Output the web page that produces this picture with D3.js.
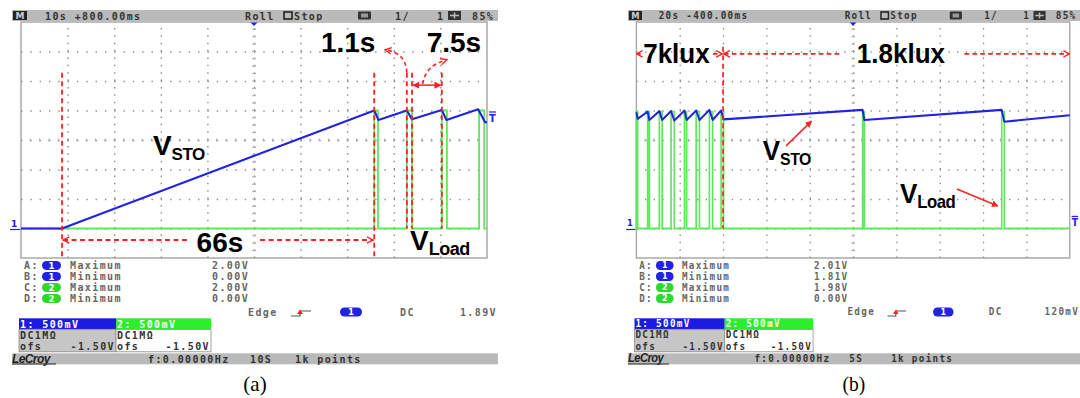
<!DOCTYPE html>
<html>
<head>
<meta charset="utf-8">
<script src="https://cdn.jsdelivr.net/npm/d3@7"></script>
<style>
  body { margin: 0; background: #fff; }
  svg { display: block; }
  .mono { font-family: "DejaVu Sans Mono", monospace; font-weight: bold; font-size: 10px; letter-spacing: 1.4px; }
  .big { font-family: "Liberation Sans", Arial, sans-serif; font-weight: bold; fill: #000; }
</style>
</head>
<body>
<svg id="chart" width="1080" height="398"></svg>
<script>
// ---- shared scope grid (500 mV/div, 8 divisions) ----
const voltGrid = [-0.5, 0, 0.5, 1, 1.5, 2, 2.5, 3, 3.5];
const measLetters = ['A', 'B', 'C', 'D'];
const measChannels = ['1', '1', '2', '2'];
const measNames = ['Maximum', 'Minimum', 'Maximum', 'Minimum'];

// ---- panel (a): 10 s/div ----
const aTimeGrid = [0, 10, 20, 30, 40, 50, 60, 70, 80, 90, 100];
const aStoTime = [0, 8.8, 75.8, 76.7, 82.8, 83.9, 90.3, 91.3, 98.1, 99.6, 100];
const aStoVolt = [0, 0, 2.00, 1.84, 2.00, 1.85, 2.01, 1.84, 2.02, 1.80, 1.80];
const aLoadOn = [75.8, 82.8, 90.3, 98.3];
const aLoadOff = [76.6, 83.9, 91.4, 99.4];
const aCursorTime = [8.8, 75.8, 82.8, 83.9, 90.3];
const aCursorBottom = [-0.5, -0.5, 0, 0, 0];
const aMeasValues = ['2.00V', '0.00V', '2.00V', '0.00V'];

// ---- panel (b): 20 s/div ----
const bTimeGrid = [0, 20, 40, 60, 80, 100, 120, 140, 160, 180, 200];
const bStoTime = [0, 0.6, 5.2, 6.0, 10.6, 11.9, 16.0, 17.5, 22.2, 23.2, 27.6, 29.1, 33.7, 35.2, 39.1, 40.2, 104.4, 105.2, 168.6, 169.8, 200];
const bStoVolt = [1.97, 1.86, 1.98, 1.84, 1.99, 1.84, 1.99, 1.83, 2.00, 1.84, 2.00, 1.84, 2.01, 1.84, 2.00, 1.85, 2.01, 1.84, 2.01, 1.81, 1.92];
const bLoadOn = [0, 5.2, 10.6, 16.0, 22.2, 27.6, 33.7, 39.1, 104.4, 168.6];
const bLoadOff = [0.6, 6.0, 11.9, 17.5, 23.2, 29.1, 35.2, 40.2, 105.2, 169.8];
const bCursorTime = [40.0];
const bCursorBottom = [0];
const bMeasValues = ['2.01V', '1.81V', '1.98V', '0.00V'];

const plotTop = 22, plotBottom = 258, plotLeft = 21, plotRight = 487;
const RED = '#ff2020', BLUE = '#2222e2', GREEN = '#5fe85f';

const svg = d3.select('#chart');
const defs = svg.append('defs');
defs.append('marker').attr('id', 'chev')
    .attr('viewBox', '0 0 10 10').attr('refX', 9).attr('refY', 5)
    .attr('markerWidth', 8).attr('markerHeight', 8)
    .attr('markerUnits', 'userSpaceOnUse').attr('orient', 'auto-start-reverse')
  .append('path').attr('d', 'M1,1 L9,5 L1,9')
    .attr('fill', 'none').attr('stroke', RED).attr('stroke-width', 1.7);
defs.append('marker').attr('id', 'tri')
    .attr('viewBox', '0 0 10 10').attr('refX', 9).attr('refY', 5)
    .attr('markerWidth', 7).attr('markerHeight', 7)
    .attr('markerUnits', 'userSpaceOnUse').attr('orient', 'auto-start-reverse')
  .append('path').attr('d', 'M0,0 L10,5 L0,10 Z').attr('fill', RED);

function monoText(g, x, y, s, fill, anchor) {
    return g.append('text').attr('class', 'mono')
        .attr('x', x).attr('y', y)
        .attr('fill', fill || '#666')
        .attr('text-anchor', anchor || 'start')
        .text(s);
}

function dash(g, pts, start, end) {
    const p = g.append('path')
        .attr('d', d3.line()(pts))
        .attr('fill', 'none').attr('stroke', RED)
        .attr('stroke-width', 1.8).attr('stroke-dasharray', '5,3.5');
    if (start) p.attr('marker-start', 'url(#' + start + ')');
    if (end) p.attr('marker-end', 'url(#' + end + ')');
    return p;
}

function vLabel(g, x, y, sub, subSize) {
    const t = g.append('text').attr('class', 'big').attr('x', x).attr('y', y);
    t.append('tspan').attr('font-size', 28).text('V');
    t.append('tspan').attr('font-size', subSize).attr('dy', 5)
        .attr('letter-spacing', -0.5).text(sub);
}

function drawScope(g, p) {
    const x = d3.scaleLinear().domain([0, p.tMax]).range([plotLeft, plotRight]);
    const y = d3.scaleLinear().domain([-0.5, 3.5]).range([plotBottom, plotTop]);

    // header bar
    g.append('rect').attr('x', 12).attr('y', 10).attr('width', 486).attr('height', 11).attr('fill', '#bababa');
    g.append('rect').attr('x', 13).attr('y', 11).attr('width', 14).attr('height', 9).attr('fill', '#222');
    g.append('text').attr('x', 20).attr('y', 19).attr('text-anchor', 'middle')
        .attr('font-family', 'DejaVu Sans').attr('font-size', 9).attr('font-weight', 'bold')
        .attr('fill', '#ccc').text('M');
    monoText(g, 45, 19.5, p.header, '#333');
    monoText(g, 245, 19.5, 'Roll', '#333');
    g.append('rect').attr('x', 284).attr('y', 12).attr('width', 8).attr('height', 7)
        .attr('fill', 'none').attr('stroke', '#222').attr('stroke-width', 1.6);
    monoText(g, 294, 19.5, 'Stop', '#333');
    g.append('rect').attr('x', 358).attr('y', 11.5).attr('width', 13).attr('height', 8).attr('rx', 1).attr('fill', '#333');
    g.append('rect').attr('x', 361).attr('y', 13.5).attr('width', 7).attr('height', 4).attr('fill', '#999');
    monoText(g, 395, 19.5, '1/', '#333');
    monoText(g, 437, 19.5, '1', '#333');
    g.append('rect').attr('x', 448).attr('y', 11).attr('width', 13).attr('height', 9).attr('fill', '#333');
    g.append('path').attr('d', 'M450,15.5 H459 M454.5,12.5 V18.5').attr('stroke', '#bbb').attr('stroke-width', 1.5);
    monoText(g, 472, 19.5, '85%', '#333');

    // plot frame and dotted grid
    g.append('rect').attr('x', plotLeft).attr('y', plotTop)
        .attr('width', plotRight - plotLeft).attr('height', plotBottom - plotTop)
        .attr('fill', '#fff').attr('stroke', '#a9a9a9').attr('stroke-width', 1.5);

    const gx = g.append('g').attr('transform', 'translate(0,' + plotBottom + ')')
        .call(d3.axisBottom(x).tickValues(p.timeGrid.slice(1, -1))
            .tickSize(-(plotBottom - plotTop)).tickFormat(''));
    gx.select('.domain').remove();
    gx.selectAll('line').attr('stroke', '#8c8c8c').attr('stroke-width', 1.4)
        .attr('stroke-dasharray', '1.4,5.975');

    const gy = g.append('g').attr('transform', 'translate(' + plotLeft + ',0)')
        .call(d3.axisLeft(y).tickValues(voltGrid.slice(1, -1))
            .tickSize(-(plotRight - plotLeft)).tickFormat(''));
    gy.select('.domain').remove();
    gy.selectAll('line').attr('stroke', '#8c8c8c').attr('stroke-width', 1.4)
        .attr('stroke-dasharray', '1.4,7.92');

    // centre cross-hair minor ticks
    const cx = x(p.tMax / 2), cy = y(1.5);
    const yMinor = d3.range(1, 32).map(k => y(-0.5 + k / 8));
    const xMinor = d3.range(1, 50).map(k => x(k * p.tMax / 50));
    g.append('g').selectAll('line').data(yMinor).join('line')
        .attr('x1', cx - 2).attr('x2', cx + 2).attr('y1', d => d).attr('y2', d => d)
        .attr('stroke', '#aaa').attr('stroke-width', 1);
    g.append('g').selectAll('line').data(xMinor).join('line')
        .attr('x1', d => d).attr('x2', d => d).attr('y1', cy - 1.5).attr('y2', cy + 1.5)
        .attr('stroke', '#aaa').attr('stroke-width', 1);

    // trigger position marker
    g.append('path').attr('d', 'M' + (cx - 3.5) + ',22.5 L' + (cx + 3.5) + ',22.5 L' + cx + ',26 Z').attr('fill', BLUE);

    // channel 2: V_Load
    const loadPts = [[0, 0]];
    p.loadOn.forEach((t, i) => {
        loadPts.push([t, 0], [t, p.loadHigh], [p.loadOff[i], p.loadHigh], [p.loadOff[i], 0]);
    });
    loadPts.push([p.tMax, 0]);
    const line = d3.line().x(d => x(d[0])).y(d => y(d[1]));
    g.append('path').attr('d', line(loadPts))
        .attr('fill', 'none').attr('stroke', GREEN).attr('stroke-width', 1.8);

    // channel 1: V_STO
    const stoPts = p.stoTime.map((t, i) => [t, p.stoVolt[i]]);
    g.append('path').attr('d', line(stoPts))
        .attr('fill', 'none').attr('stroke', BLUE).attr('stroke-width', 2.1)
        .attr('stroke-linejoin', 'round');

    // channel / trigger level markers
    g.append('text').attr('x', 11).attr('y', y(0) - 2).attr('font-family', 'DejaVu Sans')
        .attr('font-weight', 'bold').attr('font-size', 9).attr('fill', BLUE).text('1');
    g.append('line').attr('x1', 10).attr('x2', 20).attr('y1', y(0) + 1).attr('y2', y(0) + 1)
        .attr('stroke', BLUE).attr('stroke-width', 1.2);
    g.append('line').attr('x1', 489).attr('x2', 496).attr('y1', y(p.trigLevel) - 5).attr('y2', y(p.trigLevel) - 5)
        .attr('stroke', BLUE).attr('stroke-width', 1.2);
    g.append('text').attr('x', 489).attr('y', y(p.trigLevel) + 5).attr('font-family', 'DejaVu Sans')
        .attr('font-weight', 'bold').attr('font-size', 10).attr('fill', BLUE).text('T');

    // cursors
    p.cursorTime.forEach((t, i) => {
        dash(g, [[x(t), y(p.cursorTop)], [x(t), y(p.cursorBottom[i])]]);
    });

    p.annotate(g, x, y);

    // measurements
    const rowY = [269, 280, 291, 302];
    rowY.forEach((ry, i) => {
        monoText(g, 24, ry, measLetters[i] + ':');
        const pill = measChannels[i] === '1' ? BLUE : '#2ed82e';
        g.append('rect').attr('x', 42).attr('y', ry - 8).attr('width', 19).attr('height', 9)
            .attr('rx', 4.5).attr('fill', pill);
        g.append('text').attr('x', 51.5).attr('y', ry - 0.5).attr('text-anchor', 'middle')
            .attr('font-family', 'DejaVu Sans').attr('font-weight', 'bold').attr('font-size', 8.5)
            .attr('fill', '#fff').text(measChannels[i]);
        monoText(g, 70, ry, measNames[i]);
        monoText(g, 212, ry, p.measValues[i]);
    });

    // trigger setup row
    monoText(g, 248, 315.5, 'Edge');
    g.append('path').attr('d', 'M291,316 H300 V311 H311').attr('fill', 'none')
        .attr('stroke', '#555').attr('stroke-width', 1.2);
    g.append('path').attr('d', 'M297,314 L300,309.5 L303,314 Z').attr('fill', RED);
    g.append('rect').attr('x', 340).attr('y', 307.5).attr('width', 22).attr('height', 9).attr('rx', 4.5).attr('fill', BLUE);
    g.append('text').attr('x', 351).attr('y', 315).attr('text-anchor', 'middle')
        .attr('font-family', 'DejaVu Sans').attr('font-weight', 'bold').attr('font-size', 8.5)
        .attr('fill', '#fff').text('1');
    monoText(g, 400, 315.5, 'DC');
    monoText(g, 497, 315.5, p.trigText, '#666', 'end');

    // channel boxes
    g.append('rect').attr('x', 19).attr('y', 318.3).attr('width', 97).attr('height', 11).attr('fill', '#1c1ce0');
    g.append('rect').attr('x', 116).attr('y', 318.3).attr('width', 95).attr('height', 11).attr('fill', '#2cee2c');
    g.append('rect').attr('x', 19).attr('y', 329.3).attr('width', 97).attr('height', 22.5)
        .attr('fill', '#c6c6c6').attr('stroke', '#888').attr('stroke-width', 0.8);
    g.append('rect').attr('x', 116).attr('y', 329.3).attr('width', 95).attr('height', 22.5)
        .attr('fill', '#fff').attr('stroke', '#888').attr('stroke-width', 0.8);
    monoText(g, 20, 327.5, '1: 500mV', '#fff');
    monoText(g, 117, 327.5, '2: 500mV', '#fff');
    monoText(g, 20, 338.5, 'DC1MΩ', '#333');
    monoText(g, 117, 338.5, 'DC1MΩ', '#333');
    monoText(g, 20, 350, 'ofs', '#333');
    monoText(g, 117, 350, 'ofs', '#333');
    monoText(g, 115, 350, '-1.50V', '#333', 'end');
    monoText(g, 210, 350, '-1.50V', '#333', 'end');

    // footer bar
    g.append('rect').attr('x', 12).attr('y', 353.3).attr('width', 486).attr('height', 11).attr('fill', '#bababa');
    g.append('text').attr('x', 12).attr('y', 362.5)
        .attr('font-family', 'Liberation Sans').attr('font-weight', 'bold').attr('font-style', 'italic')
        .attr('font-size', 12).attr('letter-spacing', -0.6).attr('fill', '#222').text('LeCroy');
    g.append('line').attr('x1', 12).attr('x2', 56).attr('y1', 364).attr('y2', 364)
        .attr('stroke', '#222').attr('stroke-width', 1);
    monoText(g, 148, 362.5, 'f:0.00000Hz', '#333');
    monoText(g, 250, 362.5, p.footTime, '#333');
    monoText(g, 295, 362.5, '1k points', '#333');

    g.append('text').attr('x', 255).attr('y', 391).attr('text-anchor', 'middle')
        .attr('font-family', 'Liberation Serif').attr('font-size', 21).attr('fill', '#000')
        .text(p.caption);
}

function annotateA(g, x, y) {
    // 66 s charge interval
    dash(g, [[x(8.8) + 1, y(-0.195)], [x(36.3), y(-0.195)]], 'chev');
    dash(g, [[x(51.3), y(-0.195)], [x(75.8) - 1, y(-0.195)]], null, 'chev');
    g.append('text').attr('class', 'big').attr('font-size', 28).attr('text-anchor', 'middle')
        .attr('x', x(42.7)).attr('y', y(-0.39)).text('66s');

    // 1.1 s pulse
    g.append('text').attr('class', 'big').attr('font-size', 28).attr('text-anchor', 'middle')
        .attr('x', x(70.2)).attr('y', y(2.99)).text('1.1s');
    g.append('path')
        .attr('d', 'M' + x(82.8) + ',' + y(2.64) + ' C' + x(82.6) + ',' + y(2.9) + ' ' + x(80.9) + ',' + y(2.99) + ' ' + x(78.1) + ',' + y(3.03))
        .attr('fill', 'none').attr('stroke', RED).attr('stroke-width', 1.6)
        .attr('stroke-dasharray', '4,3').attr('marker-end', 'url(#chev)');

    // 7.5 s period
    g.append('text').attr('class', 'big').attr('font-size', 28).attr('text-anchor', 'middle')
        .attr('x', x(92.9)).attr('y', y(2.99)).text('7.5s');
    g.append('line').attr('x1', x(83.9) + 1).attr('x2', x(90.3) - 1).attr('y1', y(2.43)).attr('y2', y(2.43))
        .attr('stroke', RED).attr('stroke-width', 1.5)
        .attr('marker-start', 'url(#tri)').attr('marker-end', 'url(#tri)');
    g.append('path')
        .attr('d', 'M' + x(86.2) + ',' + y(2.45) + ' C' + x(86.8) + ',' + y(2.72) + ' ' + x(88.8) + ',' + y(2.8) + ' ' + x(91.4) + ',' + y(2.86))
        .attr('fill', 'none').attr('stroke', RED).attr('stroke-width', 1.6)
        .attr('stroke-dasharray', '4,3').attr('marker-end', 'url(#chev)');

    vLabel(g, x(28.3), y(1.25), 'STO', 17);
    vLabel(g, x(83.5), y(-0.36), 'Load', 18);
}

function annotateB(g, x, y) {
    const ly = y(2.96);
    dash(g, [[x(0.1), ly], [x(2.0), ly]], 'chev');
    dash(g, [[x(35.3), ly], [x(39.6), ly]], null, 'chev');
    dash(g, [[x(40.4), ly], [x(93.7), ly]], 'chev');
    dash(g, [[x(151.4), ly], [x(199.8), ly]], null, 'chev');
    g.append('text').attr('class', 'big').attr('font-size', 28).attr('text-anchor', 'middle')
        .attr('x', x(18.5)).attr('y', y(2.80)).text('7klux');
    g.append('text').attr('class', 'big').attr('font-size', 28).attr('text-anchor', 'middle')
        .attr('x', x(122.1)).attr('y', y(2.80)).text('1.8klux');

    vLabel(g, x(58.3), y(1.16), 'STO', 17);
    g.append('line').attr('x1', x(69.1)).attr('y1', y(1.40)).attr('x2', x(80.8)).attr('y2', y(1.82))
        .attr('stroke', RED).attr('stroke-width', 1.6).attr('marker-end', 'url(#tri)');
    vLabel(g, x(121.6), y(0.43), 'Load', 18);
    g.append('line').attr('x1', x(147.9)).attr('y1', y(0.67)).attr('x2', x(166.8)).attr('y2', y(0.38))
        .attr('stroke', RED).attr('stroke-width', 1.6).attr('marker-end', 'url(#tri)');
}

const sx = 452 / 486;
drawScope(svg.append('g'), {
    tMax: 100, timeGrid: aTimeGrid, header: '10s +800.00ms',
    stoTime: aStoTime, stoVolt: aStoVolt,
    loadOn: aLoadOn, loadOff: aLoadOff, loadHigh: 2.0,
    cursorTime: aCursorTime, cursorTop: 2.64, cursorBottom: aCursorBottom,
    trigLevel: 1.89, trigText: '1.89V', measValues: aMeasValues,
    footTime: '10S', caption: '(a)', annotate: annotateA
});
drawScope(svg.append('g').attr('transform', 'translate(' + (628 - 12 * sx) + ',0) scale(' + sx + ',1)'), {
    tMax: 200, timeGrid: bTimeGrid, header: '20s -400.00ms',
    stoTime: bStoTime, stoVolt: bStoVolt,
    loadOn: bLoadOn, loadOff: bLoadOff, loadHigh: 1.98,
    cursorTime: bCursorTime, cursorTop: 3.08, cursorBottom: bCursorBottom,
    trigLevel: 0.12, trigText: '120mV', measValues: bMeasValues,
    footTime: '5S', caption: '(b)', annotate: annotateB
});
</script>
</body>
</html>
